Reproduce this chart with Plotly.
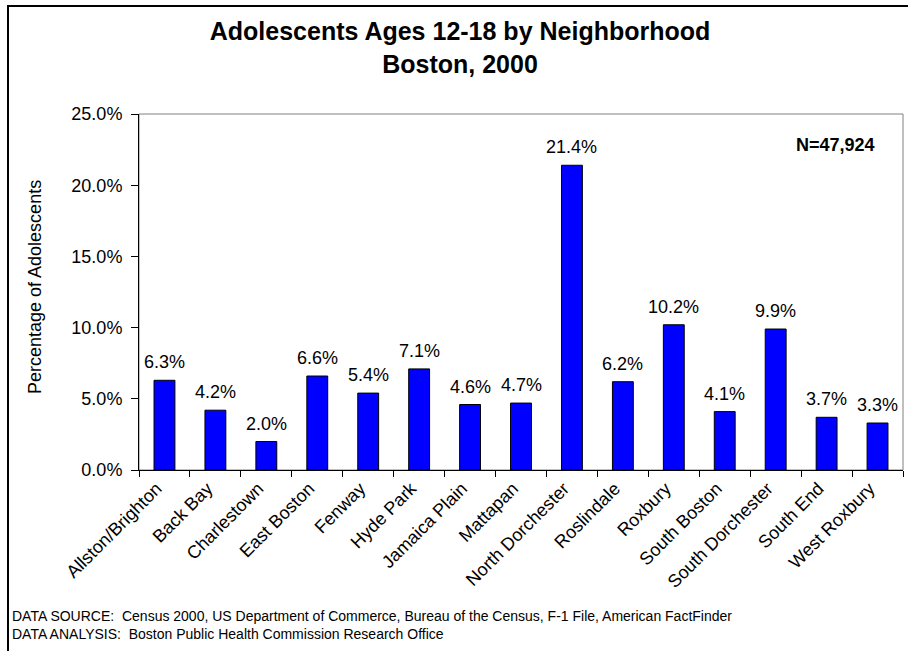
import plotly.graph_objects as go

neighborhoods = ["Allston/Brighton", "Back Bay", "Charlestown", "East Boston", "Fenway",
                 "Hyde Park", "Jamaica Plain", "Mattapan", "North Dorchester", "Roslindale",
                 "Roxbury", "South Boston", "South Dorchester", "South End", "West Roxbury"]
pct_adolescents = [6.3, 4.2, 2.0, 6.6, 5.4, 7.1, 4.6, 4.7, 21.4, 6.2, 10.2, 4.1, 9.9, 3.7, 3.3]
y_ticks = [0, 5, 10, 15, 20, 25]
y_tick_labels = ["0.0%", "5.0%", "10.0%", "15.0%", "20.0%", "25.0%"]

W, H = 908, 651
L, R, T, B = 139, 5, 114, 181
PW, PH = W - L - R, H - T - B

def px(x):
    return (x - L) / PW

def py(y):
    return (H - B - y) / PH

FONT = "Arial, Liberation Sans, sans-serif"

fig = go.Figure()
fig.add_trace(go.Bar(
    x=neighborhoods, y=pct_adolescents,
    marker=dict(color="#0000FF", line=dict(color="black", width=1)),
    hoverinfo="x+y",
))

annotations = []
for name, v in zip(neighborhoods, pct_adolescents):
    annotations.append(dict(x=name, y=v, xref="x", yref="y", text=f"{v:.1f}%",
                            showarrow=False, yanchor="bottom", yshift=6,
                            font=dict(family=FONT, size=18, color="black")))

annotations.append(dict(x=px(835), y=py(145), xref="paper", yref="paper", text="<b>N=47,924</b>",
                        showarrow=False, xanchor="center", yanchor="middle",
                        font=dict(family=FONT, size=18, color="black")))
annotations.append(dict(x=px(35), y=py(287), xref="paper", yref="paper",
                        text="Percentage of Adolescents", textangle=-90,
                        showarrow=False, xanchor="center", yanchor="middle",
                        font=dict(family=FONT, size=18, color="black")))
annotations.append(dict(x=px(10), y=py(625), xref="paper", yref="paper",
                        text="DATA SOURCE:  Census 2000, US Department of Commerce, Bureau of the Census, F-1 File, American FactFinder<br>"
                             "DATA ANALYSIS:  Boston Public Health Commission Research Office",
                        showarrow=False, xanchor="left", yanchor="middle", align="left",
                        font=dict(family=FONT, size=14, color="black")))

shapes = [
    dict(type="rect", xref="paper", yref="paper", x0=0, x1=1, y0=0, y1=1,
         line=dict(color="#808080", width=1), layer="below"),
    dict(type="rect", xref="paper", yref="paper", x0=px(8), x1=px(925), y0=py(6), y1=py(665),
         line=dict(color="black", width=2), layer="above"),
]

fig.update_layout(
    width=W, height=H,
    margin=dict(l=L, r=R, t=T, b=B, autoexpand=False),
    paper_bgcolor="white", plot_bgcolor="white",
    showlegend=False,
    bargap=0.59,
    title=dict(text="<b>Adolescents Ages 12-18 by Neighborhood<br>Boston, 2000</b>",
               x=460 / W, xref="container", xanchor="center",
               y=1 - 40 / H, yref="container", yanchor="top",
               font=dict(family=FONT, size=25, color="black")),
    annotations=annotations,
    shapes=shapes,
    font=dict(family=FONT, size=18, color="black"),
    xaxis=dict(showline=True, linecolor="black", linewidth=1, ticks="outside", ticklen=6,
               tickcolor="black", tickson="boundaries", tickangle=-45, showgrid=False,
               ticklabelshift=-8,
               tickfont=dict(family=FONT, size=18, color="black"), automargin=False),
    yaxis=dict(range=[0, 25], tickvals=y_ticks, ticktext=y_tick_labels, showline=True,
               linecolor="black", linewidth=1, ticks="outside", ticklen=7, tickcolor="black",
               showgrid=False, zeroline=False, ticklabelstandoff=5,
               tickfont=dict(family=FONT, size=18, color="black"), automargin=False),
)

fig.write_html("out.html", config={"displayModeBar": False},
               post_script="document.body.style.margin='0';")
